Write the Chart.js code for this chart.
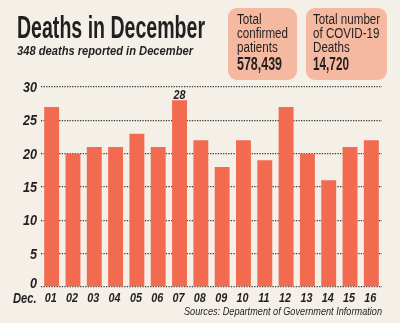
<!DOCTYPE html>
<html>
<head>
<meta charset="utf-8">
<script src="https://cdn.jsdelivr.net/npm/chart.js@4"></script>
<style>
  html, body { margin:0; padding:0; }
  body { width:400px; height:323px; background:#f4f0e8; position:relative; overflow:hidden;
         font-family:"Liberation Sans",Arial,sans-serif; color:#231f20; }
  #c { position:absolute; left:0; top:0; }
  .t { position:absolute; white-space:nowrap; transform-origin:left top; line-height:1; }
  #title { left:17px; top:11px; font-size:32px; font-weight:bold; }
  #sub { left:17px; top:45px; font-size:12px; font-weight:bold; font-style:italic; }
  .box { position:absolute; top:8px; height:72px; background:#f5b9a1; border-radius:9px; }
  #box1 { left:228px; width:69px; }
  #box2 { left:306px; width:81px; }
  .bl { position:absolute; font-size:14px; line-height:14px; white-space:nowrap; transform-origin:left top; }
  .bn { position:absolute; font-size:18px; font-weight:bold; line-height:1; white-space:nowrap; transform-origin:left top; }
  #src { top:306px; font-size:10.5px; font-style:italic; }
</style>
</head>
<body>
<canvas id="c" width="400" height="323"></canvas>
<div class="t" id="title">Deaths in December</div>
<div class="t" id="sub">348 deaths reported in December</div>
<div class="box" id="box1">
  <div class="bl" id="l1" style="left:9px;top:3.5px;">Total<br>confirmed<br>patients</div>
  <div class="bn" id="n1" style="left:9px;top:47px;">578,439</div>
</div>
<div class="box" id="box2">
  <div class="bl" id="l2" style="left:7px;top:3.5px;">Total number<br>of COVID-19<br>Deaths</div>
  <div class="bn" id="n2" style="left:7px;top:47px;">14,720</div>
</div>
<div class="t" id="src">Sources: Department of Government Information</div>
<script>
const days = ["01","02","03","04","05","06","07","08","09","10","11","12","13","14","15","16"];
const deaths = [27,20,21,21,23,21,28,22,18,22,19,27,20,16,21,22];
const yTicks = [0,5,10,15,20,25,30];
const axisName = "Dec.";

function fit(id, w) {
  const el = document.getElementById(id);
  const cw = el.getBoundingClientRect().width;
  el.style.transform = 'scaleX(' + (w / cw) + ')';
}
fit('title', 188);
fit('sub', 176);
fit('n1', 45);
fit('n2', 36);
document.getElementById('l1').style.transform = 'scaleX(0.83)';
document.getElementById('l2').style.transform = 'scaleX(0.83)';
(function(){
  const el = document.getElementById('src');
  el.style.left = (382 - 198) + 'px';
  fit('src', 198);
})();

const FONT = '"Liberation Sans",Arial,sans-serif';
const maxIdx = deaths.indexOf(Math.max(...deaths));

function squeezeText(ctx, text, x, y, sx, align) {
  ctx.save();
  ctx.translate(x, y);
  ctx.scale(sx, 1);
  ctx.textAlign = align;
  ctx.fillText(text, 0, 0);
  ctx.restore();
}

const labelPlugin = {
  id: 'labels',
  afterDatasetsDraw(chart) {
    const ctx = chart.ctx;
    const xs = chart.scales.x, ys = chart.scales.y;
    ctx.save();
    ctx.fillStyle = '#231f20';
    ctx.textBaseline = 'middle';
    // x tick labels
    ctx.font = 'italic bold 13px ' + FONT;
    days.forEach((d, i) => squeezeText(ctx, d, xs.getPixelForTick(i) - 1, ys.bottom + 11.5, 0.83, 'center'));
    // axis name
    ctx.font = 'italic bold 14px ' + FONT;
    squeezeText(ctx, axisName, 13, ys.bottom + 12.5, 0.8, 'left');
    // y tick labels
    ctx.font = 'italic bold 15px ' + FONT;
    yTicks.forEach(v => {
      const y = ys.getPixelForValue(v) + (v === 0 ? -3.5 : 0.8);
      squeezeText(ctx, String(v), 37, y, 0.84, 'right');
    });
    // value label on top bar
    const bar = chart.getDatasetMeta(0).data[maxIdx];
    ctx.font = 'italic bold 12px ' + FONT;
    ctx.textBaseline = 'alphabetic';
    squeezeText(ctx, String(deaths[maxIdx]), bar.x, bar.y - 1.5, 0.9, 'center');
    ctx.restore();
  }
};

new Chart(document.getElementById('c'), {
  type: 'bar',
  data: { labels: days, datasets: [{ data: deaths, backgroundColor: '#f26b51', borderWidth: 0,
          categoryPercentage: 1, barPercentage: 0.7 }] },
  options: {
    responsive: false, animation: false,
    layout: { padding: { left: 0, right: 18, top: 87, bottom: 0 } },
    plugins: { legend: { display: false }, tooltip: { enabled: false } },
    scales: {
      x: {
        grid: { display: false },
        border: { display: false },
        ticks: { display: false },
        afterFit(s) { s.height = 36; s.paddingLeft = 0; s.paddingRight = 0; }
      },
      y: {
        min: 0, max: 30,
        afterBuildTicks(s) { s.ticks = yTicks.map(v => ({ value: v })); },
        grid: { color: '#3a3a3a', lineWidth: 1.3, drawTicks: false },
        border: { display: false, dash: [1.3, 1.3] },
        ticks: { display: false },
        afterFit(s) { s.width = 41; s.paddingTop = 0; s.paddingBottom = 0; }
      }
    }
  },
  plugins: [labelPlugin]
});
</script>
</body>
</html>
